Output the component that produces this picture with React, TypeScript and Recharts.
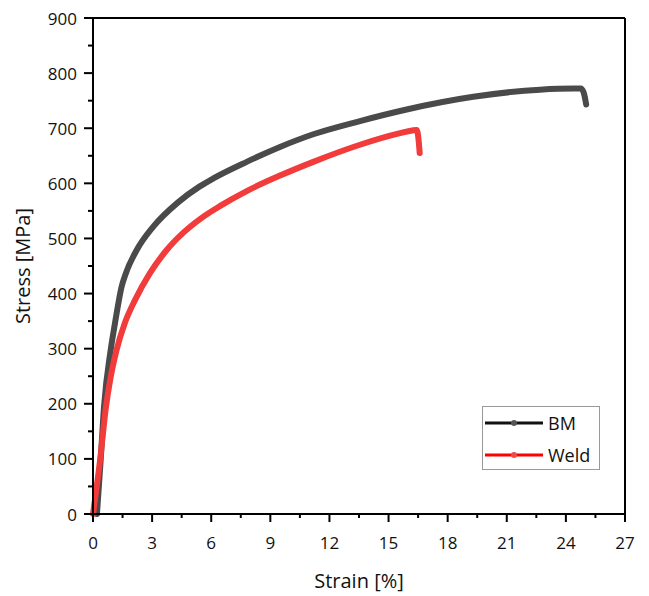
import { LineChart, Line, XAxis, YAxis, ReferenceLine, Label } from "recharts";

// tensile curves
const bmStrain = [0.2, 0.39, 0.56, 0.9, 1.12, 1.29, 1.45, 1.67, 2.22, 3.05, 4.3, 5.4, 6.11, 7.8, 9.49, 11.18, 13.55, 15.92, 19.3, 22.69, 24.4, 24.75, 24.9, 25.03];
const bmStress = [0, 98, 195, 298, 347, 383, 412, 437, 479, 521, 565, 594, 609, 639, 666, 689, 713, 734, 757, 770, 772, 772, 765, 743];

const weldStrain = [0, 0.36, 0.66, 0.9, 1.2, 1.62, 2.13, 2.89, 3.74, 4.6, 5.5, 6.5, 7.8, 9.49, 11.18, 13.55, 15.58, 16.2, 16.43, 16.52, 16.58];
const weldStress = [0, 98, 195, 249, 298, 347, 388, 437, 479, 511, 537, 560, 586, 614, 639, 670, 691, 696, 697, 680, 655];

const xTicks = [0, 1.5, 3, 4.5, 6, 7.5, 9, 10.5, 12, 13.5, 15, 16.5, 18, 19.5, 21, 22.5, 24, 25.5, 27];
const yTicks = [0, 50, 100, 150, 200, 250, 300, 350, 400, 450, 500, 550, 600, 650, 700, 750, 800, 850, 900];

const bmData = bmStrain.map((s, i) => ({ strain: s, stress: bmStress[i] }));
const weldData = weldStrain.map((s, i) => ({ strain: s, stress: weldStress[i] }));

const FONT = "'Open Sans', sans-serif";

const XTick = ({ x, y, payload }: any) => {
  const major = payload.value % 3 === 0;
  return (
    <g>
      <line x1={x} x2={x} y1={y} y2={y + (major ? 8 : 4)} stroke="#000" strokeWidth={2} />
      {major && (
        <text x={x} y={y + 28} textAnchor="middle" dominantBaseline="central" fontSize={17} fontFamily={FONT} fill="#111">
          {payload.value}
        </text>
      )}
    </g>
  );
};

const YTick = ({ x, y, payload }: any) => {
  const major = payload.value % 100 === 0;
  return (
    <g>
      <line x1={x - (major ? 9 : 5)} x2={x} y1={y} y2={y} stroke="#000" strokeWidth={2} />
      {major && (
        <text x={x - 16} y={y} textAnchor="end" dominantBaseline="central" fontSize={17} fontFamily={FONT} fill="#111">
          {payload.value}
        </text>
      )}
    </g>
  );
};

const LegendRow = ({ line, dot, label }: any) => (
  <div style={{ display: "flex", alignItems: "center", height: 32 }}>
    <svg width={62} height={10}>
      <line x1={2} x2={60} y1={5} y2={5} stroke={line} strokeWidth={3} />
      <circle cx={31} cy={5} r={3} fill={dot} />
    </svg>
    <span style={{ fontFamily: FONT, fontSize: 18, color: "#111", marginLeft: 3 }}>{label}</span>
  </div>
);

export default function App() {
  return (
    <div style={{ position: "absolute", left: 0, top: 0, width: 649, height: 596, background: "#fff" }}>
      <LineChart width={649} height={596} margin={{ top: 18, right: 24, bottom: 0, left: 0 }}>
        <XAxis
          type="number"
          dataKey="strain"
          domain={[0, 27]}
          ticks={xTicks}
          interval={0}
          height={82}
          tickSize={0}
          tickMargin={0}
          tickLine={false}
          tick={<XTick />}
          axisLine={{ stroke: "#000", strokeWidth: 2 }}
        >
          <Label
            content={() => (
              <text x={359} y={580} textAnchor="middle" dominantBaseline="central" fontSize={20} fontFamily={FONT} fill="#111">
                Strain [%]
              </text>
            )}
          />
        </XAxis>
        <YAxis
          type="number"
          dataKey="stress"
          domain={[0, 900]}
          ticks={yTicks}
          interval={0}
          width={93}
          tickSize={0}
          tickMargin={0}
          tickLine={false}
          tick={<YTick />}
          axisLine={{ stroke: "#000", strokeWidth: 2 }}
        >
          <Label
            content={() => (
              <text x={22} y={266} transform="rotate(-90 22 266)" textAnchor="middle" dominantBaseline="central" fontSize={20} fontFamily={FONT} fill="#111">
                Stress [MPa]
              </text>
            )}
          />
        </YAxis>
        <ReferenceLine y={900} stroke="#000" strokeWidth={2} />
        <ReferenceLine x={27} stroke="#000" strokeWidth={2} />
        <Line
          data={bmData}
          dataKey="stress"
          type="monotone"
          stroke="#4a4a4a"
          strokeWidth={6}
          dot={false}
          strokeLinecap="round"
          strokeLinejoin="round"
          isAnimationActive={false}
        />
        <Line
          data={weldData}
          dataKey="stress"
          type="monotone"
          stroke="#f23b3b"
          strokeWidth={6}
          dot={false}
          strokeLinecap="round"
          strokeLinejoin="round"
          isAnimationActive={false}
        />
      </LineChart>
      <div
        style={{
          position: "absolute",
          left: 482,
          top: 406,
          width: 118,
          height: 64,
          border: "1px solid #999",
          background: "#fff",
          boxSizing: "border-box",
        }}
      >
        <LegendRow line="#111" dot="#555" label="BM" />
        <LegendRow line="#ff0000" dot="#f04a4a" label="Weld" />
      </div>
    </div>
  );
}
